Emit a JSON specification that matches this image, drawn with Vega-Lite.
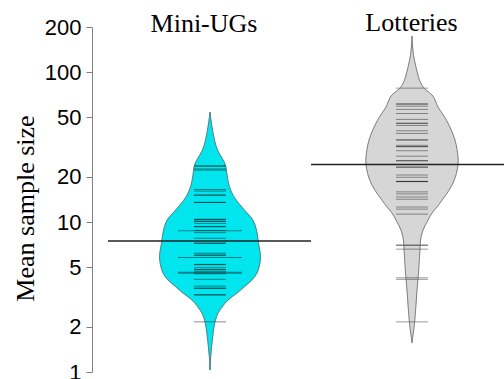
{
  "$schema": "https://vega.github.io/schema/vega-lite/v6.json",
  "padding": {"left": 12, "top": 10, "right": 0, "bottom": 0},
  "autosize": {"type": "pad"},
  "spacing": 0,
  "bounds": "flush",
  "background": "white",
  "datasets": {
    "density": [
      {"group": "Mini-UGs", "value": 1.03, "density": 0},
      {"group": "Mini-UGs", "value": 1.17, "density": 0.003},
      {"group": "Mini-UGs", "value": 1.34, "density": 0.01},
      {"group": "Mini-UGs", "value": 1.63, "density": 0.023},
      {"group": "Mini-UGs", "value": 2.0, "density": 0.04},
      {"group": "Mini-UGs", "value": 2.22, "density": 0.055},
      {"group": "Mini-UGs", "value": 2.47, "density": 0.08},
      {"group": "Mini-UGs", "value": 2.71, "density": 0.12},
      {"group": "Mini-UGs", "value": 3.02, "density": 0.18},
      {"group": "Mini-UGs", "value": 3.36, "density": 0.27},
      {"group": "Mini-UGs", "value": 3.69, "density": 0.34},
      {"group": "Mini-UGs", "value": 4.11, "density": 0.42},
      {"group": "Mini-UGs", "value": 4.57, "density": 0.47},
      {"group": "Mini-UGs", "value": 5.01, "density": 0.49},
      {"group": "Mini-UGs", "value": 5.84, "density": 0.505},
      {"group": "Mini-UGs", "value": 7.24, "density": 0.485},
      {"group": "Mini-UGs", "value": 8.84, "density": 0.465},
      {"group": "Mini-UGs", "value": 10.3, "density": 0.43},
      {"group": "Mini-UGs", "value": 11.5, "density": 0.37},
      {"group": "Mini-UGs", "value": 13.0, "density": 0.3},
      {"group": "Mini-UGs", "value": 15.1, "density": 0.23},
      {"group": "Mini-UGs", "value": 17.6, "density": 0.19},
      {"group": "Mini-UGs", "value": 20.6, "density": 0.17},
      {"group": "Mini-UGs", "value": 24.0, "density": 0.155},
      {"group": "Mini-UGs", "value": 26.7, "density": 0.12},
      {"group": "Mini-UGs", "value": 30.2, "density": 0.075},
      {"group": "Mini-UGs", "value": 35.2, "density": 0.045},
      {"group": "Mini-UGs", "value": 41.1, "density": 0.025},
      {"group": "Mini-UGs", "value": 47.9, "density": 0.01},
      {"group": "Mini-UGs", "value": 54.1, "density": 0},
      {"group": "Lotteries", "value": 1.56, "density": 0},
      {"group": "Lotteries", "value": 1.63, "density": 0.003},
      {"group": "Lotteries", "value": 1.82, "density": 0.013},
      {"group": "Lotteries", "value": 2.12, "density": 0.025},
      {"group": "Lotteries", "value": 2.71, "density": 0.038},
      {"group": "Lotteries", "value": 3.52, "density": 0.05},
      {"group": "Lotteries", "value": 4.57, "density": 0.065},
      {"group": "Lotteries", "value": 5.84, "density": 0.075},
      {"group": "Lotteries", "value": 6.51, "density": 0.08},
      {"group": "Lotteries", "value": 7.59, "density": 0.085},
      {"group": "Lotteries", "value": 8.84, "density": 0.11},
      {"group": "Lotteries", "value": 10.3, "density": 0.16},
      {"group": "Lotteries", "value": 11.5, "density": 0.2},
      {"group": "Lotteries", "value": 12.6, "density": 0.25},
      {"group": "Lotteries", "value": 14.0, "density": 0.3},
      {"group": "Lotteries", "value": 16.3, "density": 0.37},
      {"group": "Lotteries", "value": 18.2, "density": 0.41},
      {"group": "Lotteries", "value": 21.2, "density": 0.445},
      {"group": "Lotteries", "value": 24.4, "density": 0.46},
      {"group": "Lotteries", "value": 27.1, "density": 0.46},
      {"group": "Lotteries", "value": 35.2, "density": 0.43},
      {"group": "Lotteries", "value": 45.7, "density": 0.36},
      {"group": "Lotteries", "value": 53.3, "density": 0.3},
      {"group": "Lotteries", "value": 58.5, "density": 0.26},
      {"group": "Lotteries", "value": 69.2, "density": 0.21},
      {"group": "Lotteries", "value": 78.2, "density": 0.12},
      {"group": "Lotteries", "value": 88.4, "density": 0.075},
      {"group": "Lotteries", "value": 98.5, "density": 0.055},
      {"group": "Lotteries", "value": 111.4, "density": 0.035},
      {"group": "Lotteries", "value": 129.8, "density": 0.015},
      {"group": "Lotteries", "value": 151.4, "density": 0.005},
      {"group": "Lotteries", "value": 173.8, "density": 0}
    ],
    "beans": [
      {"group": "Mini-UGs", "value": 23.6, "n": 1},
      {"group": "Mini-UGs", "value": 23.7, "n": 1},
      {"group": "Mini-UGs", "value": 22.6, "n": 1},
      {"group": "Mini-UGs", "value": 22.2, "n": 1},
      {"group": "Mini-UGs", "value": 16.5, "n": 1},
      {"group": "Mini-UGs", "value": 16.1, "n": 1},
      {"group": "Mini-UGs", "value": 15.1, "n": 1},
      {"group": "Mini-UGs", "value": 15.15, "n": 1},
      {"group": "Mini-UGs", "value": 13.5, "n": 1},
      {"group": "Mini-UGs", "value": 13.55, "n": 1},
      {"group": "Mini-UGs", "value": 10.4, "n": 1},
      {"group": "Mini-UGs", "value": 10.45, "n": 1},
      {"group": "Mini-UGs", "value": 10.15, "n": 1},
      {"group": "Mini-UGs", "value": 10.1, "n": 1},
      {"group": "Mini-UGs", "value": 9.8, "n": 1},
      {"group": "Mini-UGs", "value": 9.3, "n": 1},
      {"group": "Mini-UGs", "value": 9.35, "n": 1},
      {"group": "Mini-UGs", "value": 8.75, "n": 2},
      {"group": "Mini-UGs", "value": 8.78, "n": 1},
      {"group": "Mini-UGs", "value": 8.5, "n": 1},
      {"group": "Mini-UGs", "value": 7.8, "n": 1},
      {"group": "Mini-UGs", "value": 7.2, "n": 1},
      {"group": "Mini-UGs", "value": 7.25, "n": 1},
      {"group": "Mini-UGs", "value": 6.2, "n": 1},
      {"group": "Mini-UGs", "value": 6.0, "n": 1},
      {"group": "Mini-UGs", "value": 6.03, "n": 1},
      {"group": "Mini-UGs", "value": 5.8, "n": 2},
      {"group": "Mini-UGs", "value": 5.2, "n": 1},
      {"group": "Mini-UGs", "value": 5.22, "n": 1},
      {"group": "Mini-UGs", "value": 4.96, "n": 1},
      {"group": "Mini-UGs", "value": 4.8, "n": 1},
      {"group": "Mini-UGs", "value": 4.82, "n": 1},
      {"group": "Mini-UGs", "value": 4.66, "n": 1},
      {"group": "Mini-UGs", "value": 4.62, "n": 2},
      {"group": "Mini-UGs", "value": 4.55, "n": 2},
      {"group": "Mini-UGs", "value": 4.52, "n": 1},
      {"group": "Mini-UGs", "value": 4.15, "n": 1},
      {"group": "Mini-UGs", "value": 3.74, "n": 1},
      {"group": "Mini-UGs", "value": 3.61, "n": 1},
      {"group": "Mini-UGs", "value": 3.63, "n": 1},
      {"group": "Mini-UGs", "value": 3.26, "n": 1},
      {"group": "Mini-UGs", "value": 3.28, "n": 1},
      {"group": "Mini-UGs", "value": 2.16, "n": 1},
      {"group": "Lotteries", "value": 78.2, "n": 1},
      {"group": "Lotteries", "value": 61.2, "n": 1},
      {"group": "Lotteries", "value": 61.4, "n": 1},
      {"group": "Lotteries", "value": 59.3, "n": 1},
      {"group": "Lotteries", "value": 56.4, "n": 1},
      {"group": "Lotteries", "value": 53.0, "n": 1},
      {"group": "Lotteries", "value": 48.4, "n": 1},
      {"group": "Lotteries", "value": 45.5, "n": 1},
      {"group": "Lotteries", "value": 45.7, "n": 1},
      {"group": "Lotteries", "value": 44.1, "n": 1},
      {"group": "Lotteries", "value": 40.6, "n": 1},
      {"group": "Lotteries", "value": 39.0, "n": 1},
      {"group": "Lotteries", "value": 35.2, "n": 1},
      {"group": "Lotteries", "value": 35.4, "n": 1},
      {"group": "Lotteries", "value": 32.5, "n": 1},
      {"group": "Lotteries", "value": 31.8, "n": 1},
      {"group": "Lotteries", "value": 31.9, "n": 1},
      {"group": "Lotteries", "value": 29.9, "n": 1},
      {"group": "Lotteries", "value": 27.5, "n": 1},
      {"group": "Lotteries", "value": 25.6, "n": 1},
      {"group": "Lotteries", "value": 25.7, "n": 1},
      {"group": "Lotteries", "value": 23.2, "n": 1},
      {"group": "Lotteries", "value": 23.3, "n": 1},
      {"group": "Lotteries", "value": 20.6, "n": 1},
      {"group": "Lotteries", "value": 19.9, "n": 1},
      {"group": "Lotteries", "value": 18.6, "n": 1},
      {"group": "Lotteries", "value": 18.65, "n": 1},
      {"group": "Lotteries", "value": 18.7, "n": 1},
      {"group": "Lotteries", "value": 15.9, "n": 1},
      {"group": "Lotteries", "value": 15.4, "n": 1},
      {"group": "Lotteries", "value": 14.7, "n": 1},
      {"group": "Lotteries", "value": 14.2, "n": 1},
      {"group": "Lotteries", "value": 12.6, "n": 1},
      {"group": "Lotteries", "value": 12.2, "n": 1},
      {"group": "Lotteries", "value": 11.3, "n": 1},
      {"group": "Lotteries", "value": 7.0, "n": 1},
      {"group": "Lotteries", "value": 7.02, "n": 1},
      {"group": "Lotteries", "value": 6.6, "n": 1},
      {"group": "Lotteries", "value": 4.25, "n": 1},
      {"group": "Lotteries", "value": 4.15, "n": 1},
      {"group": "Lotteries", "value": 2.16, "n": 1}
    ],
    "means": [
      {"group": "Mini-UGs", "value": 7.47},
      {"group": "Lotteries", "value": 24.2}
    ]
  },
  "hconcat": [
    {
      "width": 219,
      "height": 345,
      "title": {"text": "Mini-UGs", "font": "Liberation Serif", "fontSize": 26, "fontWeight": "normal", "color": "black", "anchor": "middle", "frame": "group", "baseline": "alphabetic", "offset": -37, "dy": 5, "dx": 2.5},
      "encoding": {
        "y": {
          "field": "value", "type": "quantitative", "title": "Mean sample size",
          "scale": {"type": "log", "domain": [1, 200], "nice": false},
          "axis": {
            "values": [1, 2, 5, 10, 20, 50, 100, 200], "format": "d", "grid": false,
            "labelOverlap": false, "tickSize": 6, "tickColor": "#808080", "domainColor": "#808080",
            "labelFont": "Liberation Sans", "labelFontSize": 22, "labelColor": "black", "labelPadding": 5,
            "titleFont": "Liberation Serif", "titleFontSize": 26, "titleFontWeight": "normal", "titleColor": "black",
            "titleX": -59, "titleY": 181, "titleBaseline": "alphabetic", "titleAngle": -90, "titleAlign": "center"
          }
        }
      },
      "resolve": {"scale": {"x": "independent"}},
      "layer": [
        {
          "data": {"name": "density"},
          "transform": [{"filter": "datum.group === 'Mini-UGs'"}],
          "mark": {"type": "area", "orient": "horizontal", "interpolate": "catmull-rom", "fill": "#00E5EE", "stroke": "#00E5EE", "strokeWidth": 0.6},
          "encoding": {
            "x": {"field": "density", "type": "quantitative", "stack": null, "scale": {"domain": [-1.18, 1.01]}, "axis": null},
            "x2": {"datum": 0}
          }
        },
        {
          "data": {"name": "density"},
          "transform": [{"filter": "datum.group === 'Mini-UGs'"}],
          "mark": {"type": "area", "orient": "horizontal", "interpolate": "catmull-rom", "fill": "#00E5EE", "stroke": "#00E5EE", "strokeWidth": 0.6},
          "encoding": {
            "x": {"field": "density", "type": "quantitative", "stack": null, "scale": {"domain": [-1.01, 1.18], "reverse": true}, "axis": null},
            "x2": {"datum": 0}
          }
        },
        {
          "data": {"name": "beans"},
          "transform": [{"filter": "datum.group === 'Mini-UGs'"}],
          "mark": {"type": "tick", "orient": "horizontal", "thickness": 1, "color": "black", "opacity": 0.45},
          "encoding": {
            "x": {"datum": 0, "type": "quantitative", "scale": {"domain": [-1.18, 1.01]}, "axis": null},
            "size": {"field": "n", "type": "quantitative", "scale": {"domain": [0, 2], "range": [0, 64]}, "legend": null}
          }
        },
        {
          "data": {"name": "density"},
          "transform": [{"filter": "datum.group === 'Mini-UGs'"}],
          "mark": {"type": "line", "interpolate": "catmull-rom", "color": "#666666", "strokeWidth": 0.8},
          "encoding": {
            "x": {"field": "density", "type": "quantitative", "scale": {"domain": [-1.18, 1.01]}, "axis": null},
            "order": {"field": "value", "type": "quantitative"}
          }
        },
        {
          "data": {"name": "density"},
          "transform": [{"filter": "datum.group === 'Mini-UGs'"}],
          "mark": {"type": "line", "interpolate": "catmull-rom", "color": "#666666", "strokeWidth": 0.8},
          "encoding": {
            "x": {"field": "density", "type": "quantitative", "scale": {"domain": [-1.01, 1.18], "reverse": true}, "axis": null},
            "order": {"field": "value", "type": "quantitative"}
          }
        },
        {
          "data": {"name": "means"},
          "transform": [{"filter": "datum.group === 'Mini-UGs'"}],
          "mark": {"type": "rule", "color": "#222222", "strokeWidth": 1.5},
          "encoding": {
            "x": {"datum": -1.02, "type": "quantitative", "scale": {"domain": [-1.18, 1.01]}, "axis": null},
            "x2": {"datum": 1.01}
          }
        }
      ]
    },
    {
      "width": 193,
      "height": 345,
      "title": {"text": "Lotteries", "font": "Liberation Serif", "fontSize": 26, "fontWeight": "normal", "color": "black", "anchor": "middle", "frame": "group", "baseline": "alphabetic", "offset": -25, "dy": 5, "dx": 4},
      "encoding": {
        "y": {
          "field": "value", "type": "quantitative",
          "scale": {"type": "log", "domain": [1, 200], "nice": false},
          "axis": null
        }
      },
      "resolve": {"scale": {"x": "independent"}},
      "layer": [
        {
          "data": {"name": "density"},
          "transform": [{"filter": "datum.group === 'Lotteries'"}],
          "mark": {"type": "area", "orient": "horizontal", "interpolate": "catmull-rom", "fill": "#D6D6D6", "stroke": "#D6D6D6", "strokeWidth": 0.6},
          "encoding": {
            "x": {"field": "density", "type": "quantitative", "stack": null, "scale": {"domain": [-1.01, 0.92]}, "axis": null},
            "x2": {"datum": 0}
          }
        },
        {
          "data": {"name": "density"},
          "transform": [{"filter": "datum.group === 'Lotteries'"}],
          "mark": {"type": "area", "orient": "horizontal", "interpolate": "catmull-rom", "fill": "#D6D6D6", "stroke": "#D6D6D6", "strokeWidth": 0.6},
          "encoding": {
            "x": {"field": "density", "type": "quantitative", "stack": null, "scale": {"domain": [-0.92, 1.01], "reverse": true}, "axis": null},
            "x2": {"datum": 0}
          }
        },
        {
          "data": {"name": "beans"},
          "transform": [{"filter": "datum.group === 'Lotteries'"}],
          "mark": {"type": "tick", "orient": "horizontal", "thickness": 1, "color": "black", "opacity": 0.4},
          "encoding": {
            "x": {"datum": 0, "type": "quantitative", "scale": {"domain": [-1.01, 0.92]}, "axis": null},
            "size": {"field": "n", "type": "quantitative", "scale": {"domain": [0, 2], "range": [0, 64]}, "legend": null}
          }
        },
        {
          "data": {"name": "density"},
          "transform": [{"filter": "datum.group === 'Lotteries'"}],
          "mark": {"type": "line", "interpolate": "catmull-rom", "color": "#666666", "strokeWidth": 0.8},
          "encoding": {
            "x": {"field": "density", "type": "quantitative", "scale": {"domain": [-1.01, 0.92]}, "axis": null},
            "order": {"field": "value", "type": "quantitative"}
          }
        },
        {
          "data": {"name": "density"},
          "transform": [{"filter": "datum.group === 'Lotteries'"}],
          "mark": {"type": "line", "interpolate": "catmull-rom", "color": "#666666", "strokeWidth": 0.8},
          "encoding": {
            "x": {"field": "density", "type": "quantitative", "scale": {"domain": [-0.92, 1.01], "reverse": true}, "axis": null},
            "order": {"field": "value", "type": "quantitative"}
          }
        },
        {
          "data": {"name": "means"},
          "transform": [{"filter": "datum.group === 'Lotteries'"}],
          "mark": {"type": "rule", "color": "#222222", "strokeWidth": 1.5},
          "encoding": {
            "x": {"datum": -1.01, "type": "quantitative", "scale": {"domain": [-1.01, 0.92]}, "axis": null},
            "x2": {"datum": 0.92}
          }
        }
      ]
    }
  ],
  "resolve": {"scale": {"x": "independent", "y": "independent"}},
  "config": {"view": {"stroke": null}}
}
